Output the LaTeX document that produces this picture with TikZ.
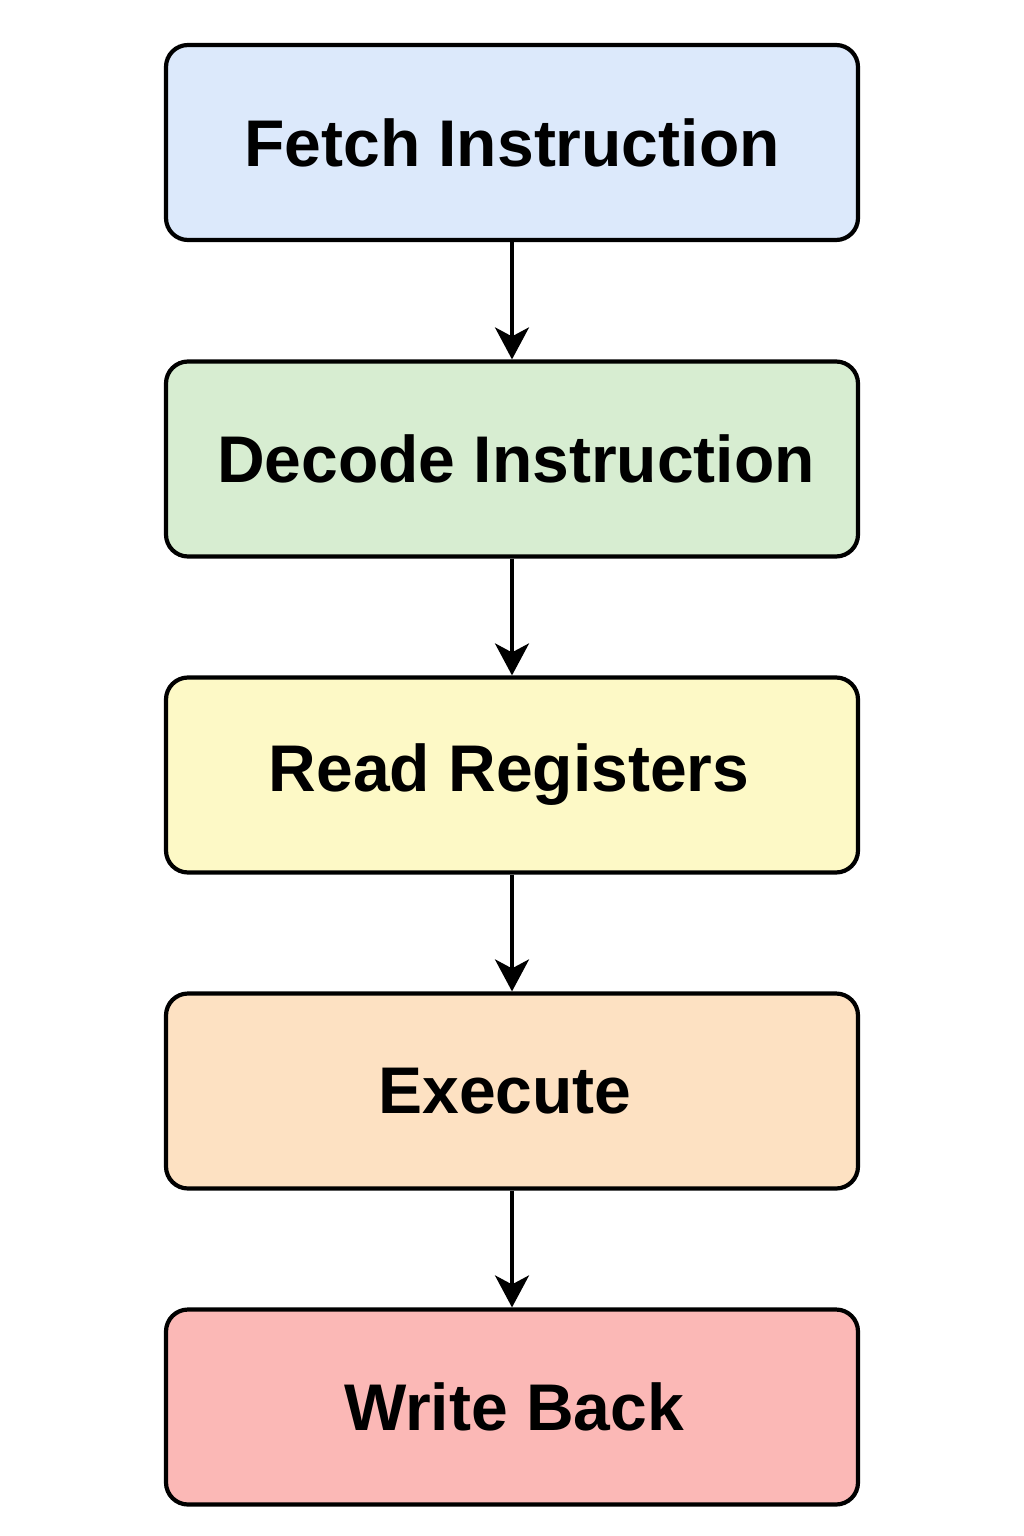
\documentclass[tikz,border=0pt]{standalone}
\usepackage{fontspec}
\setmainfont{Liberation Sans}
\usetikzlibrary{arrows.meta}
\definecolor{cblue}{HTML}{DCE9FB}
\definecolor{cgreen}{HTML}{D7EDD1}
\definecolor{cyellow}{HTML}{FDF9C6}
\definecolor{corange}{HTML}{FDE1C2}
\definecolor{cred}{HTML}{FBB8B6}
\begin{document}
\begin{tikzpicture}[x=1pt,y=-1pt,
  stagebox/.style={draw=black, line width=4.2pt, rounded corners=22pt,
    minimum width=692pt, minimum height=195pt, inner sep=0pt,
    font=\fontsize{66}{70}\selectfont\bfseries},
  flowarrow/.style={draw=black, line width=3.4pt,
    -{Stealth[length=32pt, width=34pt, inset=9pt]}}]
\useasboundingbox (0,0) rectangle (1024,1536);
\node[stagebox, fill=cblue]   (fetch)  at (512,142.5) {Fetch Instruction};
\node[stagebox, fill=cgreen]  (decode) at (512,459)   {\hspace*{8pt}Decode Instruction};
\node[stagebox, fill=cyellow] (read)   at (512,775)   {Read Registers\hspace*{6pt}};
\node[stagebox, fill=corange] (exec)   at (512,1091)  {Execute\hspace*{14pt}};
\node[stagebox, fill=cred]    (write)  at (512,1407)  {\hspace*{4pt}Write Back};
\draw[flowarrow] (fetch.south) -- (decode.north);
\draw[flowarrow] (decode.south) -- (read.north);
\draw[flowarrow] (read.south) -- (exec.north);
\draw[flowarrow] (exec.south) -- (write.north);
\end{tikzpicture}
\end{document}
